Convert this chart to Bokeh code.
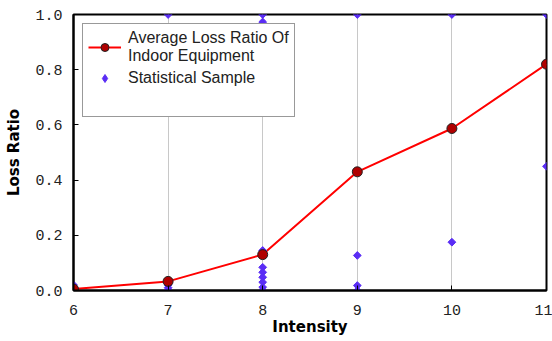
import math
from bokeh.plotting import figure
from bokeh.embed import file_html
from bokeh.resources import INLINE
from bokeh.models import Legend, LegendItem, FixedTicker, CustomJSTickFormatter

intensity = [6, 7, 8, 9, 10, 11]
avg_loss = [0.005, 0.033, 0.13, 0.43, 0.587, 0.82]

sample_x = [6, 6, 6,
            7, 7, 7, 7,
            8, 8, 8, 8, 8, 8, 8, 8, 8, 8,
            9, 9, 9, 9,
            10, 10,
            11, 11]
sample_y = [0.0, 0.01, 0.02,
            1.0, 0.0, 0.01, 0.02,
            1.0, 0.973, 0.145, 0.134, 0.084, 0.066, 0.048, 0.03, 0.012, 0.0,
            1.0, 0.127, 0.018, 0.0,
            1.0, 0.175,
            1.0, 0.45]

x_ticks = [6, 7, 8, 9, 10, 11]
y_ticks = [0.0, 0.2, 0.4, 0.6, 0.8, 1.0]

p = figure(width=552, height=341, x_range=(6, 11), y_range=(0, 1),
           output_backend="svg", toolbar_location=None)
p.min_border = 0
p.min_border_left = 73
p.min_border_right = 6
p.min_border_top = 14
p.min_border_bottom = 51

p.outline_line_color = "black"
p.outline_line_width = 2
p.background_fill_color = "white"
p.border_fill_color = "white"

p.xgrid.ticker = FixedTicker(ticks=[7, 8, 9, 10])
p.xgrid.grid_line_color = "#c8c8c8"
p.xgrid.grid_line_width = 1
p.ygrid.grid_line_color = None

for ax in (p.xaxis[0], p.yaxis[0]):
    ax.axis_line_color = "black"
    ax.axis_line_width = 2
    ax.major_tick_in = 5
    ax.major_tick_out = 0
    ax.minor_tick_line_color = None
    ax.major_label_text_font = "Liberation Mono"
    ax.major_label_text_font_size = "15px"
    ax.major_label_text_color = "#222222"
    ax.axis_label_text_font = "DejaVu Sans"
    ax.axis_label_text_font_style = "bold"
    ax.axis_label_text_font_size = "15px"
    ax.axis_label_text_color = "black"

p.xaxis.ticker = FixedTicker(ticks=x_ticks)
p.yaxis.ticker = FixedTicker(ticks=y_ticks)
p.yaxis.formatter = CustomJSTickFormatter(code="return tick.toFixed(1);")
p.xaxis.axis_label = "Intensity"
p.yaxis.axis_label = "Loss Ratio"
p.xaxis.major_label_standoff = 14
p.xaxis.axis_label_standoff = 0
p.yaxis.major_label_standoff = 11
p.yaxis.axis_label_standoff = 9

ln = p.line(intensity, avg_loss, line_color="red", line_width=2)
sc = p.scatter(sample_x, sample_y, marker="square", size=5.5, angle=math.pi / 4,
               fill_color="#5a2df5", line_color="#5a2df5")
ci = p.scatter(intensity, avg_loss, marker="circle", size=10,
               fill_color="#b00000", line_color="#222222", line_width=1)

# legend-only glyphs (hidden)
sc_leg = p.scatter(sample_x, sample_y, marker="diamond", size=10,
                   fill_color="#5a2df5", line_color="#5a2df5", visible=False)
blank = p.line(x=[], y=[], line_color=None)

legend = Legend(items=[
    LegendItem(label="Average Loss Ratio Of\nIndoor Equipment", renderers=[ln, ci]),
    LegendItem(label="Statistical Sample", renderers=[sc_leg]),
    LegendItem(label=" ", renderers=[blank]),
], location="top_left")
legend.label_text_font = "Liberation Sans"
legend.label_text_font_size = "16px"
legend.label_text_color = "#222222"
legend.border_line_color = "#333333"
legend.border_line_width = 1
legend.background_fill_alpha = 1
legend.margin = 9
legend.padding = 5
legend.spacing = 3
legend.glyph_width = 33
legend.label_standoff = 7
p.add_layout(legend)

open("out.html", "w").write(file_html(p, INLINE))
